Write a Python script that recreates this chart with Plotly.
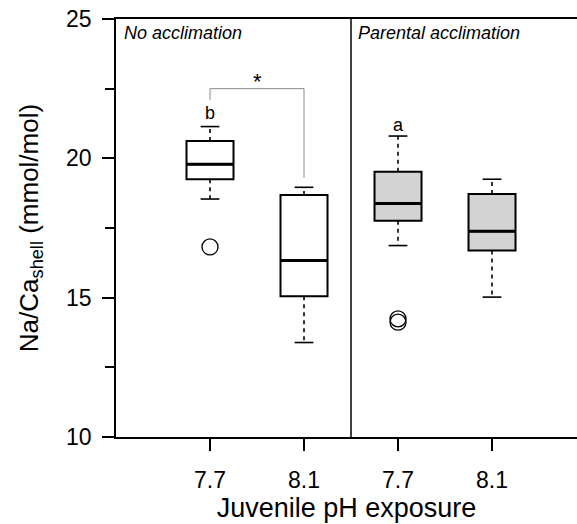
import plotly.graph_objects as go

# ---- data ----
positions = [1, 2, 3, 4]
tick_labels = ["7.7", "8.1", "7.7", "8.1"]
q1 = [19.25, 15.05, 17.76, 16.69]
median = [19.79, 16.33, 18.38, 17.38]
q3 = [20.62, 18.68, 19.52, 18.72]
lower_whisker = [18.54, 13.39, 16.87, 15.02]
upper_whisker = [21.14, 18.96, 20.80, 19.25]
fills = ["white", "white", "#d3d3d3", "#d3d3d3"]
outlier_x = [1, 3, 3]
outlier_y = [16.82, 14.24, 14.12]
group_labels = ["No acclimation", "Parental acclimation"]
group_label_x = [0.065, 2.555]
letters = ["b", "a"]
letter_x = [1, 3]
letter_y = [21.64, 21.21]
bracket_x = [1, 1, 2, 2]
bracket_y = [22.1, 22.5, 22.5, 19.3]

FONT = "Liberation Sans, Arial, sans-serif"
fig = go.Figure()

for p, a, m, b, f in zip(positions, q1, median, q3, fills):
    fig.add_trace(go.Box(
        x=[p], q1=[a], median=[m], q3=[b], lowerfence=[a], upperfence=[b],
        width=0.5, whiskerwidth=0, fillcolor=f,
        line=dict(color="black", width=2), boxpoints=False,
        showlegend=False, hoverinfo="skip"))

# whiskers (dashed)
wx, wy, cx, cy, mx, my = [], [], [], [], [], []
for p, a, m, b, lw, uw in zip(positions, q1, median, q3, lower_whisker, upper_whisker):
    wx += [p, p, None, p, p, None]
    wy += [b, uw, None, a, lw, None]
    cx += [p - 0.1, p + 0.1, None, p - 0.1, p + 0.1, None]
    cy += [uw, uw, None, lw, lw, None]
    mx += [p - 0.25, p + 0.25, None]
    my += [m, m, None]

fig.add_trace(go.Scatter(x=wx, y=wy, mode="lines",
                         line=dict(color="black", width=1.6, dash="4px,4px"),
                         showlegend=False, hoverinfo="skip"))
fig.add_trace(go.Scatter(x=cx, y=cy, mode="lines",
                         line=dict(color="black", width=1.6),
                         showlegend=False, hoverinfo="skip"))
fig.add_trace(go.Scatter(x=mx, y=my, mode="lines",
                         line=dict(color="black", width=3),
                         showlegend=False, hoverinfo="skip"))
fig.add_trace(go.Scatter(x=outlier_x, y=outlier_y, mode="markers",
                         marker=dict(symbol="circle-open", size=16, color="black",
                                     line=dict(width=1.3)),
                         showlegend=False, hoverinfo="skip"))
# significance bracket
fig.add_trace(go.Scatter(x=bracket_x, y=bracket_y, mode="lines",
                         line=dict(color="#8a8a8a", width=1),
                         showlegend=False, hoverinfo="skip"))

# divider between groups
fig.add_shape(type="line", xref="x", yref="y", x0=2.5, x1=2.5, y0=10, y1=25,
              line=dict(color="black", width=1.5))

for t, gx in zip(group_labels, group_label_x):
    fig.add_annotation(x=gx, y=24.5, text=f"<i>{t}</i>", showarrow=False,
                       xanchor="left", yanchor="middle",
                       font=dict(family=FONT, size=18, color="black"))
for t, lx, ly in zip(letters, letter_x, letter_y):
    fig.add_annotation(x=lx, y=ly, text=t, showarrow=False,
                       font=dict(family=FONT, size=18, color="black"))
fig.add_annotation(x=1.51, y=22.75, text="*", showarrow=False,
                   font=dict(family=FONT, size=22, color="black"))

fig.update_layout(
    width=577, height=524,
    margin=dict(l=116, r=0, t=19, b=87),
    plot_bgcolor="white", paper_bgcolor="white",
    font=dict(family=FONT, color="black"),
    showlegend=False,
)
fig.update_xaxes(
    range=[0, 4.904], tickmode="array", tickvals=positions, ticktext=tick_labels,
    ticks="outside", ticklen=12, tickwidth=1.5, tickcolor="black",
    showline=True, linecolor="black", linewidth=1.5, mirror=True,
    showgrid=False, zeroline=False, automargin=False,
    ticklabelstandoff=10,
    tickfont=dict(size=23, family=FONT, color="black"),
    title=dict(text="Juvenile pH exposure", standoff=4,
               font=dict(size=27, family=FONT, color="black")),
)
fig.update_yaxes(
    range=[10, 25], tickmode="array", tickvals=[10, 15, 20, 25],
    ticks="outside", ticklen=12, tickwidth=1.5, tickcolor="black",
    minor=dict(tickvals=[12.5, 17.5, 22.5], ticks="outside", ticklen=9,
               tickwidth=1.5, tickcolor="black", showgrid=False),
    showline=True, linecolor="black", linewidth=1.5,
    showgrid=False, zeroline=False, automargin=False,
    ticklabelstandoff=6,
    tickfont=dict(size=23, family=FONT, color="black"),
    title=dict(text="Na/Ca<sub>shell</sub> (mmol/mol)", standoff=20,
               font=dict(size=26, family=FONT, color="black")),
)

fig.write_html("out.html")
